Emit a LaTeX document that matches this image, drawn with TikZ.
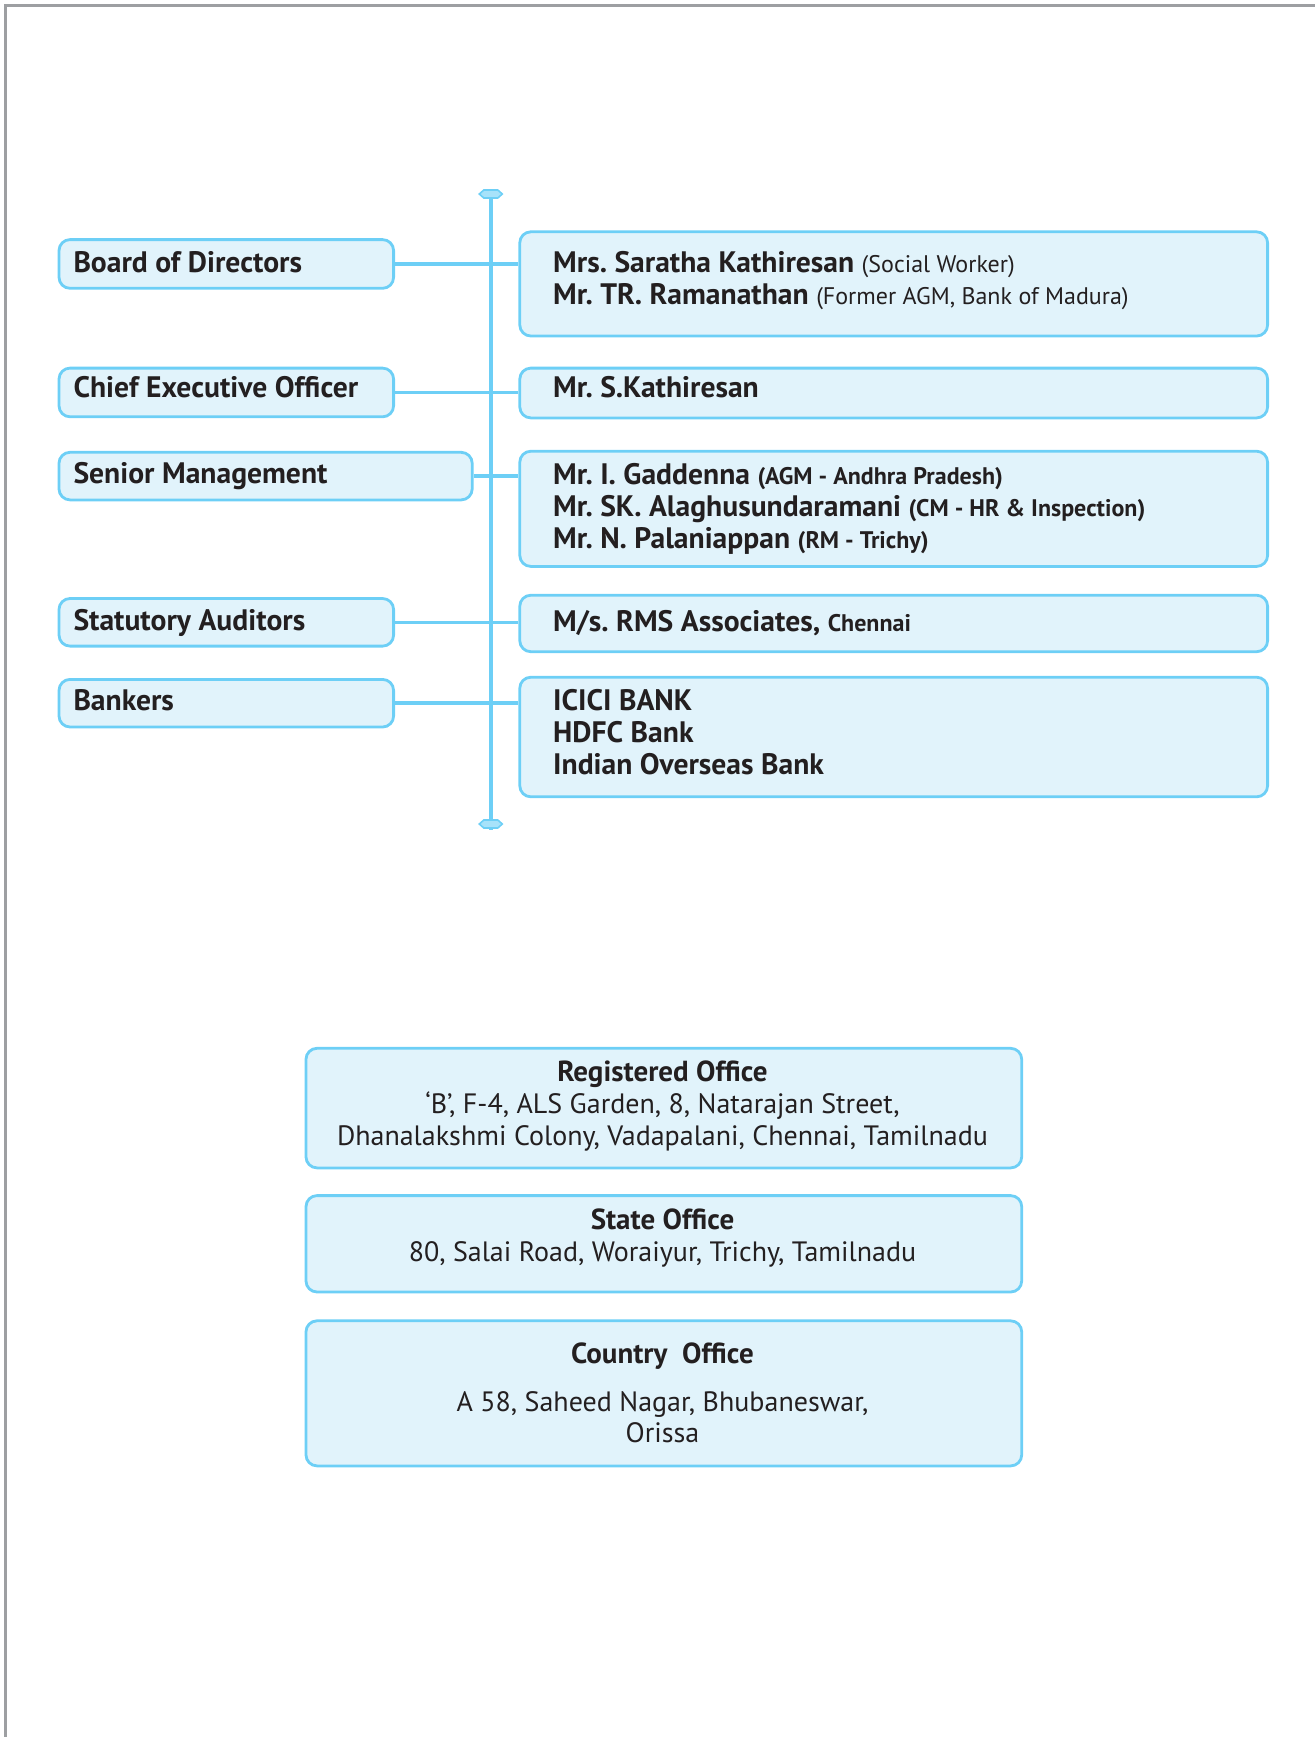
\documentclass[tikz,border=0pt]{standalone}
\usepackage{fontspec}
\setmainfont{PT Sans}
\definecolor{cyanline}{HTML}{6DCFF6}
\definecolor{boxfill}{HTML}{E1F3FB}
\definecolor{txtcol}{HTML}{231F20}
\definecolor{framegray}{HTML}{9D9FA2}
\newcommand\smreg[1]{{\fontsize{12}{14}\selectfont\mdseries #1}}
\newcommand\smbold[1]{{\fontsize{12}{14}\selectfont\bfseries #1}}
\begin{document}
\begin{tikzpicture}[x=0.5pt,y=-0.5pt,
  box/.style={draw=cyanline,fill=boxfill,line width=1.4pt,rounded corners=5.5pt,anchor=north west,inner sep=0pt},
  conn/.style={draw=cyanline,line width=1.8pt},
  marker/.style={draw=cyanline,fill=cyanline!60!white,line width=0.8pt},
  nm/.style={anchor=base west,inner sep=0pt,text=txtcol,font=\fontsize{14.8}{16}\selectfont\bfseries},
  ctr/.style={anchor=base,inner sep=0pt,text=txtcol,font=\fontsize{14}{16}\selectfont},
  ctrb/.style={anchor=base,inner sep=0pt,text=txtcol,font=\fontsize{14.5}{16}\selectfont\bfseries}]
\useasboundingbox (0,0) rectangle (1315,1737);
% page frame
\draw[framegray,line width=1.5pt] (5,1737) -- (5,5) -- (1315,5);

% boxes
\node[box,minimum width=167.3pt,minimum height=24.35pt] (board) at (57.6,238.2) {};
\node[box,minimum width=373.9pt,minimum height=52.1pt] (rb1) at (518.4,230.4) {};
\node[box,minimum width=167.3pt,minimum height=24.35pt] (ceo) at (57.6,366.7) {};
\node[box,minimum width=373.9pt,minimum height=24.9pt] (rb2) at (518.4,366.7) {};
\node[box,minimum width=206.6pt,minimum height=23.8pt] (senior) at (57.6,450.9) {};
\node[box,minimum width=373.9pt,minimum height=57.6pt] (rb3) at (518.4,449.8) {};
\node[box,minimum width=167.3pt,minimum height=23.8pt] (aud) at (57.6,597.1) {};
\node[box,minimum width=373.9pt,minimum height=28.25pt] (rb4) at (518.4,593.8) {};
\node[box,minimum width=167.3pt,minimum height=23.8pt] (bank) at (57.6,678) {};
\node[box,minimum width=373.9pt,minimum height=59.8pt] (rb5) at (518.4,675.8) {};
\node[box,minimum width=357.85pt,minimum height=59.8pt] (reg) at (304.6,1046.9) {};
\node[box,minimum width=357.85pt,minimum height=48.2pt] (state) at (304.6,1194.2) {};
\node[box,minimum width=357.85pt,minimum height=72.55pt] (country) at (304.6,1319.4) {};

% spine
\coordinate (vtop) at (490.8,194);
\coordinate (vbot) at (490.8,824);
\coordinate (vend) at (490.8,830);
\draw[conn] (vtop) -- (vend);
\path[marker,shift={(vtop)}] (-11.5,0) -- (-7,-4) -- (7,-4) -- (11.5,0) -- (7,4) -- (-7,4) -- cycle;
\path[marker,shift={(vbot)}] (-11.5,0) -- (-7,-4) -- (7,-4) -- (11.5,0) -- (7,4) -- (-7,4) -- cycle;

% connectors
\draw[conn] (board.east) -- (board.east -| rb1.west);
\draw[conn] (ceo.east) -- (ceo.east -| rb2.west);
\draw[conn] (senior.east) -- (senior.east -| rb3.west);
\draw[conn] (aud.east) -- (aud.east -| rb4.west);
\draw[conn] (bank.east) -- (bank.east -| rb5.west);

% left labels
\node[nm] (tboard) at (73.1,272) {Board of Directors};
\node[nm] (tceo) at (73.1,397.5) {Chief Executive Officer};
\node[nm] (tsenior) at (73.1,483) {Senior Management};
\node[nm] (taud) at (73.1,630) {Statutory Auditors};
\node[nm] (tbank) at (73.1,710) {Bankers};

% right texts
\node[nm] (r1a) at (552.8,272) {Mrs.\ Saratha Kathiresan \smreg{(Social Worker)}};
\node[nm] (r1b) at (552.8,304) {Mr.\ TR.\ Ramanathan \smreg{(Former AGM, Bank of Madura)}};
\node[nm] (r2a) at (552.8,397.5) {Mr.\ S.Kathiresan};
\node[nm] (r3a) at (552.8,484) {Mr.\ I.\ Gaddenna \smbold{(AGM - Andhra Pradesh)}};
\node[nm] (r3b) at (552.8,516) {Mr.\ SK.\ Alaghusundaramani \smbold{(CM - HR \& Inspection)}};
\node[nm] (r3c) at (552.8,548) {Mr.\ N.\ Palaniappan \smbold{(RM - Trichy)}};
\node[nm] (r4a) at (552.8,631) {M/s.\ RMS Associates, \smbold{Chennai}};
\node[nm] (r5a) at (552.8,710) {ICICI BANK};
\node[nm] (r5b) at (552.8,742) {HDFC Bank};
\node[nm] (r5c) at (552.8,774) {Indian Overseas Bank};

% offices
\node[ctrb] (rega) at (662.5,1081) {Registered Office};
\node[ctr] (regb) at (662.5,1113) {‘B’, F-4, ALS Garden, 8, Natarajan Street,};
\node[ctr] (regc) at (662.5,1145) {Dhanalakshmi Colony, Vadapalani, Chennai, Tamilnadu};
\node[ctrb] (sta) at (662.5,1229.5) {State Office};
\node[ctr] (stb) at (662.5,1261.5) {80, Salai Road, Woraiyur, Trichy, Tamilnadu};
\node[ctrb] (coa) at (662.5,1363.5) {Country\ \ Office};
\node[ctr] (cob) at (662.5,1411) {A 58, Saheed Nagar, Bhubaneswar,};
\node[ctr] (coc) at (662.5,1442) {Orissa};
\end{tikzpicture}
\end{document}
